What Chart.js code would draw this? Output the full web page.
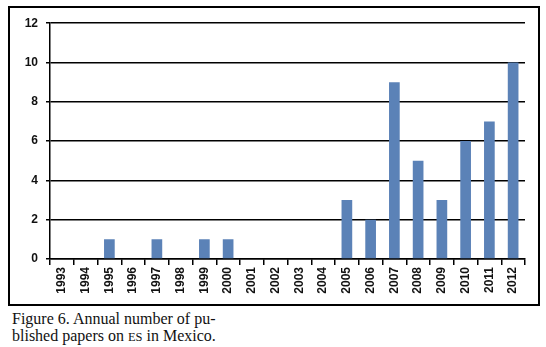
<!DOCTYPE html>
<html>
<head>
<meta charset="utf-8">
<script src="https://cdn.jsdelivr.net/npm/chart.js@4/dist/chart.umd.min.js"></script>
<style>
  body { margin: 0; background: #fff; width: 546px; height: 347px; position: relative; }
  #box { position: absolute; left: 8px; top: 6px; width: 528px; height: 296px; border: 2px solid #000; }
  #caption { position: absolute; left: 12px; top: 310px; font-family: "Liberation Serif", serif; font-size: 16px; line-height: 17px; color: #111; }
  .sc { font-size: 0.78em; }
</style>
</head>
<body>
<div id="box"><canvas id="chart" width="528" height="296"></canvas></div>
<div id="caption">Figure 6. Annual number of pu-<br>blished papers on <span class="sc">ES</span> in Mexico.</div>
<script>
const years = ['1993', '1994', '1995', '1996', '1997', '1998', '1999', '2000', '2001', '2002',
               '2003', '2004', '2005', '2006', '2007', '2008', '2009', '2010', '2011', '2012'];
const papers = [0, 0, 1, 0, 1, 0, 1, 1, 0, 0, 0, 0, 3, 2, 9, 5, 3, 6, 7, 10];
const yTicks = [0, 2, 4, 6, 8, 10, 12];

const tickFont = { family: 'Liberation Sans, Arial, sans-serif', size: 12, weight: 'bold' };

const canvas = document.getElementById('chart');
new Chart(canvas.getContext('2d'), {
  type: 'bar',
  data: {
    labels: years,
    datasets: [{
      data: papers,
      backgroundColor: '#5b82b7',
      barPercentage: 0.45,
      categoryPercentage: 1
    }]
  },
  options: {
    responsive: false,
    animation: false,
    layout: { padding: { top: 15, right: 13, left: 0, bottom: 0 } },
    plugins: { legend: { display: false }, tooltip: { enabled: false } },
    scales: {
      x: {
        offset: true,
        grid: { offset: true, drawOnChartArea: false, drawTicks: true, tickLength: 6, color: '#000', lineWidth: 1.5 },
        border: { color: '#000', width: 1.5 },
        ticks: { color: '#111', font: tickFont, minRotation: 90, maxRotation: 90, autoSkip: false, padding: 2 },
        afterFit(scale) { scale.height = 45; }
      },
      y: {
        min: 0,
        max: 12,
        afterBuildTicks(scale) { scale.ticks = yTicks.map(v => ({ value: v })); },
        grid: { color: '#000', lineWidth: 1.5, tickLength: 4, drawTicks: true },
        border: { color: '#000', width: 1.5 },
        ticks: { color: '#111', font: tickFont, padding: 8 },
        afterFit(scale) { scale.width = 40; }
      }
    }
  }
});
</script>
</body>
</html>
